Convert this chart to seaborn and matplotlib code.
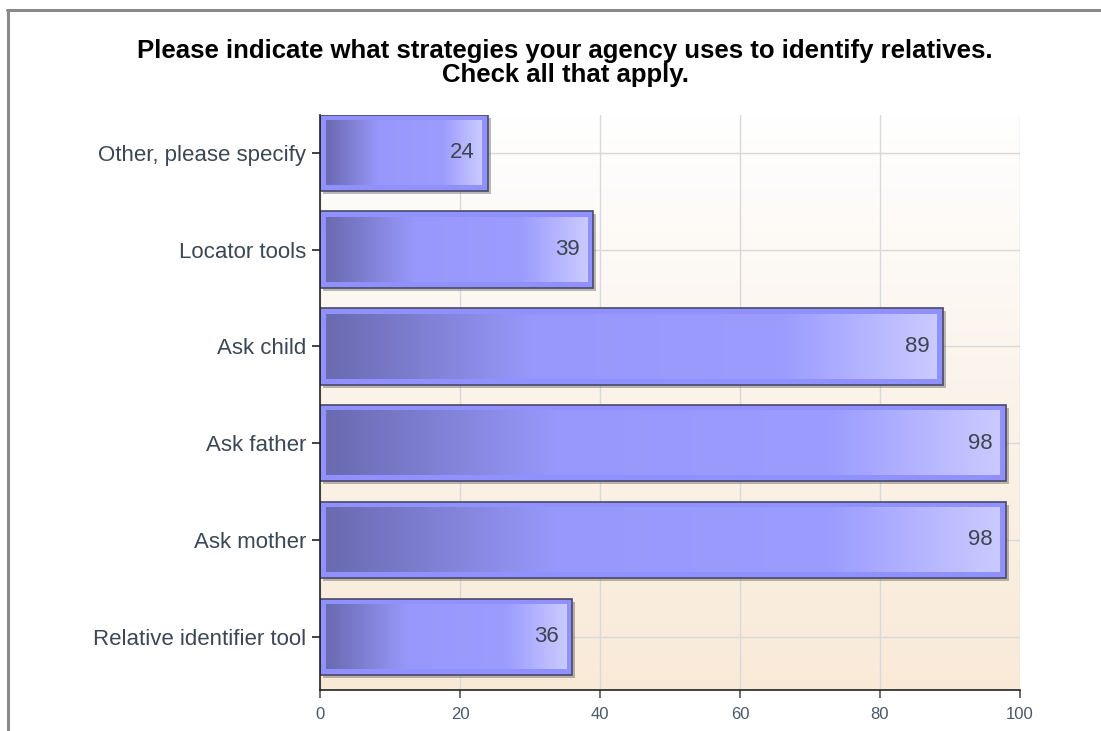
import numpy as np
import pandas as pd
import matplotlib
matplotlib.use("Agg")
import matplotlib.pyplot as plt
import matplotlib.transforms as mtransforms
from matplotlib.patches import Rectangle
from matplotlib.lines import Line2D
from matplotlib.colors import LinearSegmentedColormap
import seaborn as sns

categories = ["Other, please specify", "Locator tools", "Ask child",
              "Ask father", "Ask mother", "Relative identifier tool"]
counts = [24, 39, 89, 98, 98, 36]
x_ticks = [0, 20, 40, 60, 80, 100]
title = "Please indicate what strategies your agency uses to identify relatives.\nCheck all that apply."

sns.set_theme(style="white")
plt.rcParams['font.family'] = ['Liberation Sans', 'DejaVu Sans']

df = pd.DataFrame({"strategy": categories, "count": counts})

fig = plt.figure(figsize=(11.01, 7.31), dpi=100)
ax = fig.add_axes([320/1101, 1 - 690/731, 700/1101, 575/731])
ax.patch.set_facecolor("none")

sns.barplot(data=df, y="strategy", x="count", order=categories, orient="h",
            color="#9090ff", width=0.79, ax=ax, edgecolor="#4a4a66",
            linewidth=1.2, saturation=1)

ax.set_xlim(0, 100)
ax.set_ylim(5.55, -0.39)

# background gradient
bg_cmap = LinearSegmentedColormap.from_list("bg", ["#ffffff", "#fbf3ea", "#f9ead8"])
bg = np.linspace(0, 1, 256).reshape(-1, 1)
ax.imshow(bg, cmap=bg_cmap, extent=(0, 1, 0, 1), transform=ax.transAxes,
          aspect="auto", zorder=0, origin="upper")

ax.set_axisbelow(True)
ax.grid(True, color="#d9d9d9", linewidth=1.0)

bar_cmap = LinearSegmentedColormap.from_list(
    "bar", [(0.0, "#6a6ab0"), (0.34, "#9898fc"), (0.75, "#9c9cff"), (1.0, "#cacaff")])
grad = np.linspace(0, 1, 256).reshape(1, -1)

fig.canvas.draw()
inv = ax.transData.inverted()
shadow_off = mtransforms.ScaledTranslation(3/100, -3/100, fig.dpi_scale_trans)
for patch, val in zip(ax.patches, counts):
    x0, y0 = patch.get_x(), patch.get_y()
    w, h = patch.get_width(), patch.get_height()
    patch.set_zorder(2)
    # shadow
    sh = Rectangle((x0, y0), w, h, transform=ax.transData + shadow_off,
                   facecolor="#555555", alpha=0.4, edgecolor="none", zorder=1.5)
    ax.add_patch(sh)
    # inner gradient
    p0 = ax.transData.transform((x0, y0))
    p1 = ax.transData.transform((x0 + w, y0 + h))
    q0 = inv.transform((p0[0] + 6, p0[1] - 6))
    q1 = inv.transform((p1[0] - 6, p1[1] + 6))
    ax.imshow(grad, cmap=bar_cmap, extent=(q0[0], q1[0], q0[1], q1[1]),
              aspect="auto", zorder=3, origin="upper")
    ax.annotate(f"{val}", xy=(x0 + w, y0 + h / 2), xytext=(-9.5, 0),
                textcoords="offset points", ha="right", va="center",
                fontsize=16, color="#3c4552", zorder=4)

ax.set_xlim(0, 100)
ax.set_ylim(5.55, -0.39)
ax.set_xticks(x_ticks)
ax.set_xlabel("")
ax.set_ylabel("")

for s in ["top", "right"]:
    ax.spines[s].set_visible(False)
for s in ["left", "bottom"]:
    ax.spines[s].set_color("#222222")
    ax.spines[s].set_linewidth(1.2)
    ax.spines[s].set_zorder(5)

ax.tick_params(axis="y", length=6, width=1.2, color="#222222", labelsize=16,
               labelcolor="#3b4754", pad=4, left=True)
ax.tick_params(axis="x", length=6, width=1.2, color="#555555", labelsize=12,
               labelcolor="#4a5868", pad=6, bottom=True)

fig.text(565/1101, 1 - 63/731, title, ha="center", va="center",
         fontsize=18.5, fontweight="bold", color="#000000", linespacing=0.97)

# outer frame
fig.add_artist(Line2D([7/1101, 1], [1 - 10/731, 1 - 10/731],
                      transform=fig.transFigure, color="#8a8a8a", linewidth=2.2))
fig.add_artist(Line2D([8/1101, 8/1101], [0, 1 - 10/731],
                      transform=fig.transFigure, color="#8a8a8a", linewidth=2.2))

fig.savefig("out.png", dpi=100)
